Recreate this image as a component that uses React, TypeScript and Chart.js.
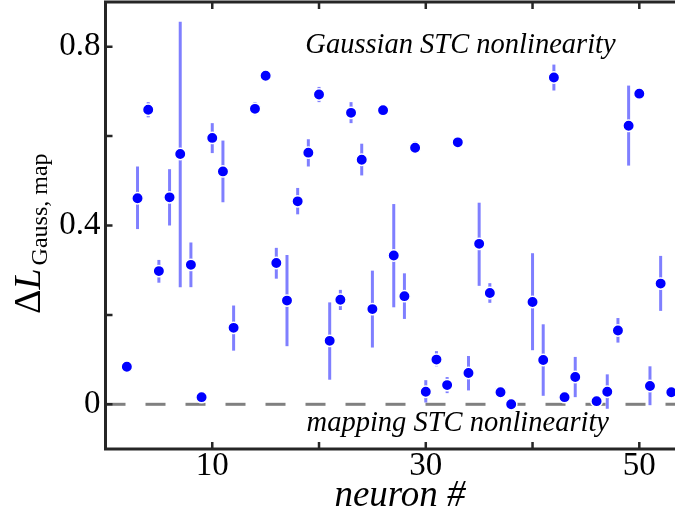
import React, { useEffect, useRef } from 'react';
import { Chart, registerables } from 'chart.js';

Chart.register(...registerables);

// ---- data ----
const neuronIds = [2, 3, 4, 5, 6, 7, 8, 9, 10, 11, 12, 14, 15, 16, 17, 18, 19, 20, 21, 22, 23, 24, 25, 26, 27, 28, 29, 30, 31, 32, 33, 34, 35, 36, 37, 38, 40, 41, 42, 43, 44, 46, 47, 48, 49, 50, 51, 52, 53];
const deltaL = [0.084, 0.461, 0.659, 0.298, 0.463, 0.56, 0.312, 0.016, 0.596, 0.521, 0.171, 0.661, 0.735, 0.316, 0.232, 0.454, 0.563, 0.693, 0.142, 0.234, 0.652, 0.547, 0.213, 0.658, 0.333, 0.242, 0.574, 0.028, 0.1, 0.043, 0.586, 0.07, 0.359, 0.249, 0.027, 0.0, 0.229, 0.099, 0.731, 0.016, 0.061, 0.007, 0.028, 0.165, 0.623, 0.695, 0.041, 0.27, 0.027];
const errLow: (number | null)[] = [null, 0.392, 0.642, 0.272, 0.4, 0.262, 0.262, null, 0.562, 0.452, 0.12, 0.647, null, 0.281, 0.13, 0.425, 0.532, 0.676, 0.055, 0.211, 0.629, 0.512, 0.127, null, 0.217, 0.191, 0.56, 0.004, 0.085, 0.025, null, 0.031, 0.265, 0.227, null, null, 0.121, 0.019, 0.702, null, 0.016, null, -0.01, 0.138, 0.534, null, -0.002, 0.209, null];
const errHigh: (number | null)[] = [null, 0.532, 0.676, 0.323, 0.526, 0.856, 0.362, null, 0.629, 0.59, 0.221, 0.676, null, 0.35, 0.334, 0.484, 0.593, 0.71, 0.228, 0.256, 0.676, 0.583, 0.299, null, 0.448, 0.293, 0.588, 0.054, 0.119, 0.061, null, 0.108, 0.451, 0.271, null, null, 0.338, 0.179, 0.76, null, 0.106, null, 0.067, 0.193, 0.713, null, 0.085, 0.332, null];

const xTickValues = [10, 20, 30, 40, 50];
const xTickLabels = ['10', '', '30', '', '50'];
const yTickValues = [0, 0.2, 0.4, 0.6, 0.8];
const yTickLabels = ['0', '', '0.4', '', '0.8'];
const xMin = 0;
const xMax = 54;
const yMin = -0.1;
const yMax = 0.9;
const referenceLevel = 0;

const upperNote = 'Gaussian STC nonlinearity';
const lowerNote = 'mapping STC nonlinearity';
const xTitle = 'neuron #';
const yTitleMain = 'Δ';
const yTitleVar = 'L';
const yTitleSub = 'Gauss, map';

const SERIF = '"Liberation Serif", "Times New Roman", serif';

const decorPlugin = {
  id: 'decor',
  beforeDatasetDraw(chart: any, args: any) {
    if (args.index !== 0) return;
    const { ctx, scales } = chart;
    const x = scales.x;
    const y = scales.y;
    ctx.save();
    ctx.strokeStyle = 'rgba(0,0,255,0.5)';
    ctx.lineWidth = 3;
    ctx.lineCap = 'butt';
    neuronIds.forEach((n, i) => {
      const lo = errLow[i];
      const hi = errHigh[i];
      if (lo == null || hi == null) return;
      const px = x.getPixelForValue(n);
      ctx.beginPath();
      ctx.moveTo(px, y.getPixelForValue(lo));
      ctx.lineTo(px, y.getPixelForValue(hi));
      ctx.stroke();
    });
    ctx.restore();
  },
  afterDraw(chart: any) {
    const { ctx, chartArea: a, scales } = chart;
    const x = scales.x;
    const y = scales.y;
    ctx.save();
    // frame
    ctx.strokeStyle = '#262626';
    ctx.lineWidth = 3;
    ctx.strokeRect(a.left, a.top, a.right - a.left, a.bottom - a.top);
    // inward ticks
    ctx.lineWidth = 2.5;
    const tl = 7;
    xTickValues.forEach((v) => {
      const px = x.getPixelForValue(v);
      ctx.beginPath();
      ctx.moveTo(px, a.bottom);
      ctx.lineTo(px, a.bottom - tl);
      ctx.moveTo(px, a.top);
      ctx.lineTo(px, a.top + tl);
      ctx.stroke();
    });
    yTickValues.forEach((v) => {
      const py = y.getPixelForValue(v);
      ctx.beginPath();
      ctx.moveTo(a.left, py);
      ctx.lineTo(a.left + tl, py);
      ctx.moveTo(a.right, py);
      ctx.lineTo(a.right - tl, py);
      ctx.stroke();
    });

    // annotations
    ctx.fillStyle = '#000';
    ctx.textAlign = 'center';
    ctx.textBaseline = 'alphabetic';
    ctx.font = `italic 28.5px ${SERIF}`;
    ctx.fillText(upperNote, x.getPixelForValue(33.25), y.getPixelForValue(0.785));
    ctx.fillText(lowerNote, x.getPixelForValue(33.0), y.getPixelForValue(-0.06));

    // x title
    ctx.font = `italic 37px ${SERIF}`;
    ctx.fillText(xTitle, 400, 506);

    // y title (rotated, mixed styles)
    ctx.translate(40, 314);
    ctx.rotate(-Math.PI / 2);
    ctx.textAlign = 'left';
    ctx.font = `38px ${SERIF}`;
    ctx.fillText(yTitleMain, 0, 0);
    let w = ctx.measureText(yTitleMain).width;
    ctx.font = `italic 38px ${SERIF}`;
    ctx.fillText(yTitleVar, w, 0);
    w += ctx.measureText(yTitleVar).width;
    ctx.font = `24px ${SERIF}`;
    ctx.fillText(yTitleSub, w + 3, 7);
    ctx.restore();
  },
};

export default function App() {
  const canvasRef = useRef<HTMLCanvasElement | null>(null);

  useEffect(() => {
    const canvas = canvasRef.current;
    if (!canvas) return;
    const points = neuronIds.map((n, i) => ({ x: n, y: deltaL[i] }));
    const chart = new Chart(canvas, {
      type: 'scatter',
      data: {
        datasets: [
          {
            type: 'scatter',
            data: points,
            pointRadius: 5.7,
            pointHoverRadius: 5.7,
            pointBackgroundColor: '#0000ff',
            pointBorderColor: '#ffffff',
            pointBorderWidth: 1.5,
          } as any,
          {
            type: 'line',
            data: [
              { x: xMin, y: referenceLevel },
              { x: xMax, y: referenceLevel },
            ],
            borderColor: '#808080',
            borderWidth: 3,
            borderDash: [20, 20],
            pointRadius: 0,
            fill: false,
          } as any,
        ],
      },
      options: {
        responsive: false,
        animation: false,
        events: [],
        layout: { autoPadding: false, padding: { top: 2, right: 8, left: 0, bottom: 0 } },
        plugins: {
          legend: { display: false },
          tooltip: { enabled: false },
          title: { display: false },
        },
        scales: {
          x: {
            type: 'linear',
            min: xMin,
            max: xMax,
            grid: { display: false, drawTicks: false },
            border: { display: false },
            afterBuildTicks: (scale: any) => {
              scale.ticks = xTickValues.map((v) => ({ value: v }));
            },
            afterFit: (scale: any) => {
              scale.height = 65;
              scale.paddingLeft = 0;
              scale.paddingRight = 0;
              scale.paddingTop = 0;
              scale.paddingBottom = 0;
            },
            ticks: {
              autoSkip: false,
              maxRotation: 0,
              minRotation: 0,
              padding: 1,
              color: '#000',
              font: { family: SERIF, size: 33, lineHeight: 1 },
              callback: (v: any) => xTickLabels[xTickValues.indexOf(Number(v))] ?? '',
            },
          },
          y: {
            type: 'linear',
            min: yMin,
            max: yMax,
            grid: { display: false, drawTicks: false },
            border: { display: false },
            afterBuildTicks: (scale: any) => {
              scale.ticks = yTickValues.map((v) => ({ value: v }));
            },
            afterFit: (scale: any) => {
              scale.width = 105.5;
              scale.paddingLeft = 0;
              scale.paddingRight = 0;
              scale.paddingTop = 0;
              scale.paddingBottom = 0;
            },
            ticks: {
              autoSkip: false,
              padding: 5,
              color: '#000',
              font: { family: SERIF, size: 33, lineHeight: 1 },
              callback: (v: any) => {
                const idx = yTickValues.findIndex((t) => Math.abs(t - Number(v)) < 1e-9);
                return idx >= 0 ? yTickLabels[idx] : '';
              },
            },
          },
        },
      },
      plugins: [decorPlugin],
    });
    return () => chart.destroy();
  }, []);

  return (
    <div
      style={{
        position: 'fixed',
        left: 0,
        top: 0,
        width: 675,
        height: 514,
        overflow: 'hidden',
        background: '#fff',
      }}
    >
      <canvas ref={canvasRef} width={690} height={514} style={{ display: 'block' }} />
    </div>
  );
}
